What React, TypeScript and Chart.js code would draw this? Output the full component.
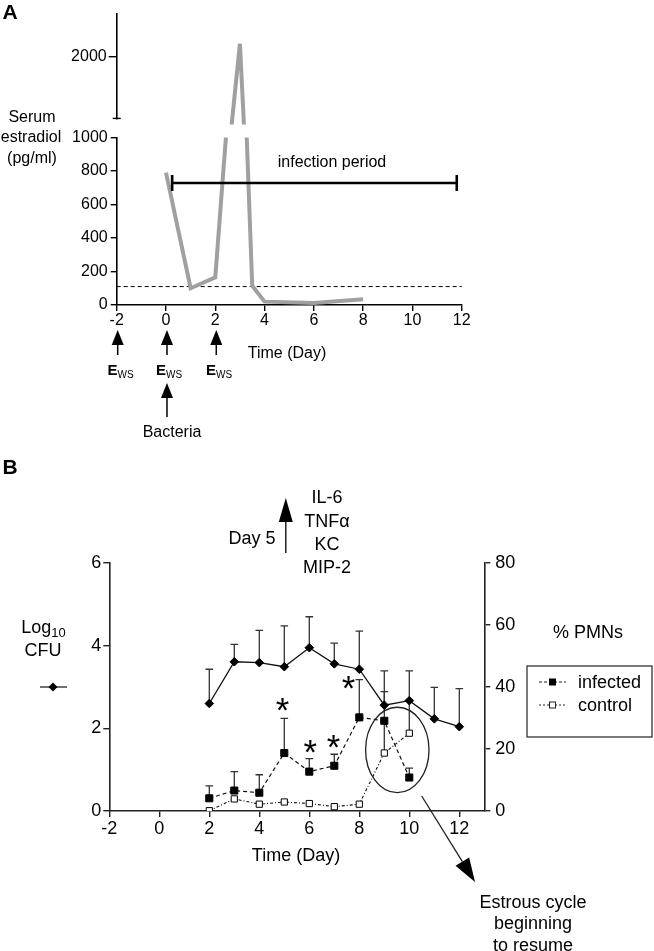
import { useEffect, useRef } from 'react';
import { Chart, registerables } from 'chart.js';

Chart.register(...registerables);

const FONT = '"Liberation Sans", Arial, sans-serif';

// ---- Panel A: serum estradiol ----
const estradiolDays = [0, 1, 2, 3, 3.5, 4, 6, 8];
const estradiolValues = [790, 100, 165, 2100, 115, 20, 12, 35];
const dayTicksA = [-2, 0, 2, 4, 6, 8, 10, 12];
const estradiolTicksLow = [0, 200, 400, 600, 800, 1000];
const estradiolTicksHigh = [2000];
const detectionLimit = 110;
const infectionPeriod = [0.25, 11.8];
const infectionLevel = 728;
const ewsDays = [-2, 0, 2];
const bacteriaDay = 0;

// ---- Panel B: CFU and % PMNs ----
const cfuDays = [2, 3, 4, 5, 6, 7, 8, 9, 10, 11, 12];
const cfuValues = [2.6, 3.61, 3.59, 3.49, 3.95, 3.56, 3.43, 2.56, 2.67, 2.23, 2.04];
const cfuErrTop = [3.43, 4.03, 4.37, 4.48, 4.7, 4.06, 4.35, 3.39, 3.39, 2.99, 2.96];
const pmnDays = [2, 3, 4, 5, 6, 7, 8, 9, 10];
const infectedValues = [4.1, 6.6, 5.9, 18.7, 12.7, 14.6, 30.2, 29.1, 10.8];
const infectedErrTop = [8.1, 12.7, 11.7, 29.9, 16.9, 18.3, 42.4, 38.5, 13.8];
const controlValues = [0.1, 3.9, 2.2, 2.9, 2.4, 1.4, 2.2, 18.7, 25.1];
const controlErrTop = [null, null, null, null, null, null, null, 29, 35.8];
const dayTicksB = [-2, 0, 2, 4, 6, 8, 10, 12];
const cfuTicks = [0, 2, 4, 6];
const pmnTicks = [0, 20, 40, 60, 80];
const asteriskDays = [4.92, 6.03, 6.96, 7.56];
const asteriskPmn = [34.3, 20.8, 22.4, 41.3];
const cytokineDay = 5;

const pts = (xs: number[], ys: (number | null)[]) => xs.map((x, i) => ({ x, y: ys[i] }));
const setTicks = (vals: number[]) => (axis: any) => {
  axis.ticks = vals.map((value) => ({ value }));
};

function arrow(ctx: CanvasRenderingContext2D, x1: number, y1: number, x2: number, y2: number, headLen: number, headHalf: number, lw: number) {
  const a = Math.atan2(y2 - y1, x2 - x1);
  const bx = x2 - headLen * Math.cos(a);
  const by = y2 - headLen * Math.sin(a);
  ctx.beginPath();
  ctx.moveTo(x1, y1);
  ctx.lineTo(bx, by);
  ctx.lineWidth = lw;
  ctx.stroke();
  ctx.beginPath();
  ctx.moveTo(x2, y2);
  ctx.lineTo(bx + headHalf * Math.sin(a), by - headHalf * Math.cos(a));
  ctx.lineTo(bx - headHalf * Math.sin(a), by + headHalf * Math.cos(a));
  ctx.closePath();
  ctx.fill();
}

// canvas tops on the page
const TOP_A_HIGH = 0;
const TOP_A_LOW = 120;
const TOP_B = 480;

const axisA = (color: string) => ({
  grid: { drawOnChartArea: false, drawTicks: true, tickLength: 6, color, lineWidth: 1.4 },
  border: { display: true, color, width: 1.6 },
});

const panelALowPlugin = {
  id: 'panelALow',
  beforeDatasetsDraw(chart: any) {
    const { ctx, chartArea, scales } = chart;
    const y = scales.y.getPixelForValue(detectionLimit);
    ctx.save();
    ctx.strokeStyle = '#000';
    ctx.lineWidth = 1;
    ctx.setLineDash([4, 3]);
    ctx.beginPath();
    ctx.moveTo(chartArea.left, y);
    ctx.lineTo(chartArea.right, y);
    ctx.stroke();
    ctx.restore();
  },
  afterDraw(chart: any) {
    const { ctx, scales } = chart;
    const x = scales.x;
    ctx.save();
    ctx.strokeStyle = '#000';
    ctx.fillStyle = '#000';
    // infection period bar
    const yb = scales.y.getPixelForValue(infectionLevel);
    const x0 = x.getPixelForValue(infectionPeriod[0]);
    const x1 = x.getPixelForValue(infectionPeriod[1]);
    ctx.lineWidth = 2.6;
    ctx.beginPath();
    ctx.moveTo(x0, yb);
    ctx.lineTo(x1, yb);
    ctx.moveTo(x0, yb - 8);
    ctx.lineTo(x0, yb + 8);
    ctx.moveTo(x1, yb - 8);
    ctx.lineTo(x1, yb + 8);
    ctx.stroke();
    // E_WS arrows
    ewsDays.forEach((d) => {
      const px = x.getPixelForValue(d) + 1;
      arrow(ctx, px, 355 - TOP_A_LOW, px, 330 - TOP_A_LOW, 15, 6, 1.5);
    });
    const bpx = x.getPixelForValue(bacteriaDay) + 1;
    arrow(ctx, bpx, 417 - TOP_A_LOW, bpx, 383 - TOP_A_LOW, 15, 6, 1.5);
    ctx.restore();
  },
};

const panelAHighPlugin = {
  id: 'panelAHigh',
  afterDraw(chart: any) {
    const { ctx, chartArea } = chart;
    ctx.save();
    ctx.strokeStyle = '#000';
    ctx.lineWidth = 1.4;
    ctx.beginPath();
    ctx.moveTo(chartArea.left - 4, chartArea.bottom);
    ctx.lineTo(chartArea.left + 4, chartArea.bottom);
    ctx.stroke();
    ctx.restore();
  },
};

const lineA = () => ({
  data: pts(estradiolDays, estradiolValues),
  borderColor: '#a0a0a0',
  borderWidth: 4,
  pointRadius: 0,
  tension: 0,
  clip: { left: 0, top: 0, right: 0, bottom: 6 },
});

const makeALow = () => ({
  type: 'line' as const,
  data: { datasets: [lineA()] },
  options: {
    animation: false as const,
    responsive: false,
    maintainAspectRatio: false,
    layout: { padding: { top: 17.5, right: 18.3, left: 0, bottom: 0 } },
    plugins: { legend: { display: false }, tooltip: { enabled: false } },
    scales: {
      x: {
        type: 'linear' as const,
        min: -2,
        max: 12,
        afterBuildTicks: setTicks(dayTicksA),
        afterFit: (s: any) => { s.height = 135; },
        ...axisA('#000'),
        ticks: { font: { family: FONT, size: 16 }, color: '#000', padding: 0, maxRotation: 0, callback: (v: any) => String(v) },
      },
      y: {
        type: 'linear' as const,
        min: 0,
        max: 1000,
        afterBuildTicks: setTicks(estradiolTicksLow),
        afterFit: (s: any) => { s.width = 116.7; },
        ...axisA('#000'),
        ticks: { font: { family: FONT, size: 16 }, color: '#000', padding: 3, callback: (v: any) => String(v) },
      },
    },
  },
  plugins: [panelALowPlugin],
});

const makeAHigh = () => ({
  type: 'line' as const,
  data: { datasets: [lineA()] },
  options: {
    animation: false as const,
    responsive: false,
    maintainAspectRatio: false,
    layout: { padding: { top: 14, right: 18.3, left: 0, bottom: 10 } },
    plugins: { legend: { display: false }, tooltip: { enabled: false } },
    scales: {
      x: { type: 'linear' as const, min: -2, max: 12, display: false },
      y: {
        type: 'linear' as const,
        min: 1500,
        max: 2340,
        afterBuildTicks: setTicks(estradiolTicksHigh),
        afterFit: (s: any) => { s.width = 116.7; },
        grid: { drawOnChartArea: false, drawTicks: true, tickLength: 8, color: '#000', lineWidth: 1.4 },
        border: { display: true, color: '#000', width: 1.6 },
        ticks: { font: { family: FONT, size: 16 }, color: '#000', padding: 2, callback: (v: any) => String(v) },
      },
    },
  },
  plugins: [panelAHighPlugin],
});

const INK = '#222';

const panelBPlugin = {
  id: 'panelB',
  beforeDatasetsDraw(chart: any) {
    const { ctx, scales } = chart;
    const xs = scales.x;
    const bars = (days: number[], vals: number[], tops: (number | null)[], ys: any) => {
      days.forEach((d, i) => {
        const t = tops[i];
        if (t == null) return;
        const px = xs.getPixelForValue(d);
        const y0 = ys.getPixelForValue(vals[i]);
        const y1 = ys.getPixelForValue(t);
        ctx.beginPath();
        ctx.moveTo(px, y0);
        ctx.lineTo(px, y1);
        ctx.moveTo(px - 3.8, y1);
        ctx.lineTo(px + 3.8, y1);
        ctx.stroke();
      });
    };
    ctx.save();
    ctx.strokeStyle = '#333';
    ctx.lineWidth = 1.3;
    bars(cfuDays, cfuValues, cfuErrTop, scales.y);
    bars(pmnDays, infectedValues, infectedErrTop, scales.y2);
    bars(pmnDays, controlValues, controlErrTop, scales.y2);
    ctx.restore();
  },
  afterDraw(chart: any) {
    const { ctx, scales } = chart;
    const xs = scales.x;
    const y2 = scales.y2;
    ctx.save();
    ctx.strokeStyle = INK;
    ctx.fillStyle = '#000';

    // asterisks
    ctx.font = `100px ${FONT}`;
    const m0 = ctx.measureText('*');
    const h0 = m0.actualBoundingBoxAscent + m0.actualBoundingBoxDescent;
    const size = (100 * 12.5) / h0;
    ctx.font = `${size}px ${FONT}`;
    const m = ctx.measureText('*');
    ctx.textAlign = 'left';
    ctx.textBaseline = 'alphabetic';
    asteriskDays.forEach((d, i) => {
      const cx = xs.getPixelForValue(d);
      const cy = y2.getPixelForValue(asteriskPmn[i]);
      const tx = cx - (m.actualBoundingBoxRight - m.actualBoundingBoxLeft) / 2;
      const ty = cy + (m.actualBoundingBoxAscent - m.actualBoundingBoxDescent) / 2;
      ctx.fillText('*', tx, ty);
    });

    // ellipse around days 9-10
    ctx.lineWidth = 1.3;
    ctx.beginPath();
    ctx.ellipse(xs.getPixelForValue(9.52), y2.getPixelForValue(19.7), 31.7, 42.7, 0, 0, Math.PI * 2);
    ctx.stroke();

    // arrow to "Estrous cycle" note
    arrow(ctx, 421.7, 796 - TOP_B, 475, 882 - TOP_B, 24, 8, 1.3);

    // Day 5 cytokine arrow
    const dx = xs.getPixelForValue(cytokineDay) + 1.5;
    arrow(ctx, dx, 553 - TOP_B, dx, 498 - TOP_B, 24, 7, 1.5);

    // CFU symbol next to the left label
    ctx.lineWidth = 1.3;
    ctx.beginPath();
    ctx.moveTo(40, 687 - TOP_B);
    ctx.lineTo(67, 687 - TOP_B);
    ctx.stroke();
    ctx.beginPath();
    ctx.moveTo(53, 687 - TOP_B - 4.5);
    ctx.lineTo(57.5, 687 - TOP_B);
    ctx.lineTo(53, 687 - TOP_B + 4.5);
    ctx.lineTo(48.5, 687 - TOP_B);
    ctx.closePath();
    ctx.fill();

    // legend box
    ctx.lineWidth = 1.2;
    ctx.strokeRect(527, 666 - TOP_B, 125, 71);
    const legendRow = (y: number, dash: number[], filled: boolean) => {
      ctx.save();
      ctx.setLineDash(dash);
      ctx.lineWidth = 1.1;
      ctx.beginPath();
      ctx.moveTo(539, y);
      ctx.lineTo(566, y);
      ctx.stroke();
      ctx.restore();
      if (filled) {
        ctx.fillRect(552.5 - 3.5, y - 3.5, 7, 7);
      } else {
        ctx.fillStyle = '#fff';
        ctx.fillRect(552.5 - 3, y - 3, 6, 6);
        ctx.fillStyle = '#000';
        ctx.lineWidth = 1;
        ctx.strokeRect(552.5 - 3, y - 3, 6, 6);
      }
    };
    legendRow(682 - TOP_B, [3, 2], true);
    legendRow(705 - TOP_B, [2, 2], false);
    ctx.restore();
  },
};

const axisB = {
  grid: { drawOnChartArea: false, drawTicks: true, tickLength: 6, color: INK, lineWidth: 1.4 },
  border: { display: true, color: INK, width: 1.6 },
};
const tickFontB = { family: FONT, size: 18 };

const makeB = () => ({
  type: 'line' as const,
  data: {
    datasets: [
      {
        label: 'Log10 CFU',
        yAxisID: 'y',
        data: pts(cfuDays, cfuValues),
        borderColor: '#111',
        borderWidth: 1.3,
        pointStyle: 'rectRot' as const,
        pointRadius: 4.3,
        pointBackgroundColor: '#000',
        pointBorderColor: '#000',
        pointBorderWidth: 1,
        tension: 0,
      },
      {
        label: 'infected',
        yAxisID: 'y2',
        data: pts(pmnDays, infectedValues),
        borderColor: '#111',
        borderWidth: 1.2,
        borderDash: [4, 3],
        pointStyle: 'rect' as const,
        pointRadius: 5,
        pointBackgroundColor: '#000',
        pointBorderColor: '#000',
        pointBorderWidth: 1,
        tension: 0,
      },
      {
        label: 'control',
        yAxisID: 'y2',
        data: pts(pmnDays, controlValues),
        borderColor: '#111',
        borderWidth: 1.1,
        borderDash: [3, 2, 1, 2],
        pointStyle: 'rect' as const,
        pointRadius: 4.4,
        pointBackgroundColor: '#fff',
        pointBorderColor: '#000',
        pointBorderWidth: 1,
        tension: 0,
      },
    ],
  },
  options: {
    animation: false as const,
    responsive: false,
    maintainAspectRatio: false,
    layout: { padding: { top: 83, right: 0, left: 0, bottom: 0 } },
    plugins: { legend: { display: false }, tooltip: { enabled: false } },
    scales: {
      x: {
        type: 'linear' as const,
        min: -2,
        max: 13,
        afterBuildTicks: setTicks(dayTicksB),
        afterFit: (s: any) => { s.height = 140; },
        ...axisB,
        ticks: { font: tickFontB, color: '#000', padding: 1, maxRotation: 0, callback: (v: any) => String(v) },
      },
      y: {
        type: 'linear' as const,
        position: 'left' as const,
        min: 0,
        max: 6,
        afterBuildTicks: setTicks(cfuTicks),
        afterFit: (s: any) => { s.width = 109.3; },
        ...axisB,
        ticks: { font: tickFontB, color: '#000', padding: 2, callback: (v: any) => String(v) },
      },
      y2: {
        type: 'linear' as const,
        position: 'right' as const,
        min: 0,
        max: 80,
        afterBuildTicks: setTicks(pmnTicks),
        afterFit: (s: any) => { s.width = 169.7; },
        ...axisB,
        ticks: { font: tickFontB, color: '#000', padding: 5, callback: (v: any) => String(v) },
      },
    },
  },
  plugins: [panelBPlugin],
});

function ChartCanvas({ make, left, top, width, height }: { make: () => any; left: number; top: number; width: number; height: number }) {
  const ref = useRef<HTMLCanvasElement>(null);
  useEffect(() => {
    if (!ref.current) return;
    const chart = new Chart(ref.current, make());
    return () => chart.destroy();
  }, [make]);
  return <canvas ref={ref} width={width} height={height} style={{ position: 'absolute', left, top, width, height }} />;
}

function Txt({ x, y, size = 16, bold = false, left = false, children }: { x: number; y: number; size?: number; bold?: boolean; left?: boolean; children: any }) {
  return (
    <div
      style={{
        position: 'absolute',
        left: x,
        top: y,
        transform: left ? 'translate(0,-50%)' : 'translate(-50%,-50%)',
        fontFamily: FONT,
        fontSize: size,
        fontWeight: bold ? 700 : 400,
        lineHeight: 1,
        whiteSpace: 'nowrap',
        color: '#000',
      }}
    >
      {children}
    </div>
  );
}

const Ews = () => (
  <span>
    <span style={{ fontWeight: 700, fontSize: 15 }}>E</span>
    <span style={{ fontSize: 10, position: 'relative', top: 3 }}>WS</span>
  </span>
);

export default function App() {
  return (
    <div style={{ position: 'absolute', left: 0, top: 0, width: 654, height: 951, background: '#fff', overflow: 'hidden' }}>
      <ChartCanvas make={makeAHigh} left={0} top={TOP_A_HIGH} width={480} height={130} />
      <ChartCanvas make={makeALow} left={0} top={TOP_A_LOW} width={480} height={320} />
      <ChartCanvas make={makeB} left={0} top={TOP_B} width={654} height={471} />

      <Txt x={10} y={11} size={21} bold>A</Txt>
      <Txt x={32} y={117}>Serum</Txt>
      <Txt x={31} y={137}>estradiol</Txt>
      <Txt x={32} y={158}>(pg/ml)</Txt>
      <Txt x={332} y={162}>infection period</Txt>
      <Txt x={287} y={353}>Time (Day)</Txt>
      <Txt x={120.5} y={370}><Ews /></Txt>
      <Txt x={169} y={370}><Ews /></Txt>
      <Txt x={219} y={370}><Ews /></Txt>
      <Txt x={172} y={432}>Bacteria</Txt>

      <Txt x={10} y={466} size={21} bold>B</Txt>
      <Txt x={252} y={538} size={18}>Day 5</Txt>
      <Txt x={327} y={497} size={18}>IL-6</Txt>
      <Txt x={327} y={521} size={18}>TNFα</Txt>
      <Txt x={327} y={544} size={18}>KC</Txt>
      <Txt x={327} y={567} size={18}>MIP-2</Txt>
      <Txt x={43.5} y={627} size={18}>
        Log<span style={{ fontSize: 13, position: 'relative', top: 4 }}>10</span>
      </Txt>
      <Txt x={43} y={650} size={18}>CFU</Txt>
      <Txt x={588} y={632} size={18}>% PMNs</Txt>
      <Txt x={578} y={682} size={18} left>infected</Txt>
      <Txt x={578} y={705} size={18} left>control</Txt>
      <Txt x={296} y={855} size={18}>Time (Day)</Txt>
      <Txt x={533} y={902} size={18}>Estrous cycle</Txt>
      <Txt x={533} y={923} size={18}>beginning</Txt>
      <Txt x={533} y={945} size={18}>to resume</Txt>
    </div>
  );
}
